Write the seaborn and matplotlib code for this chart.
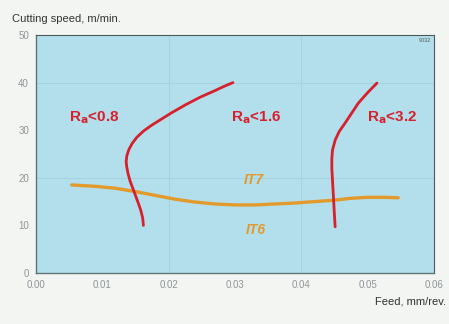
import matplotlib
matplotlib.use("Agg")
import matplotlib.pyplot as plt
import seaborn as sns
import pandas as pd

# Surface roughness limit curves (feed mm/rev vs cutting speed m/min)
ra08_feed = [0.0162, 0.0161, 0.0158, 0.0154, 0.0150, 0.0146, 0.0142, 0.0139, 0.0137, 0.0136,
             0.0137, 0.0140, 0.0145, 0.0152, 0.0162, 0.0175, 0.0190, 0.0205, 0.0225, 0.0247,
             0.0268, 0.0285, 0.0297]
ra08_speed = [10.0, 11.5, 13.2, 14.8, 16.3, 17.8, 19.3, 20.8, 22.2, 23.4,
              24.6, 25.9, 27.2, 28.5, 29.8, 31.1, 32.4, 33.7, 35.3, 36.9,
              38.2, 39.3, 40.0]

ra32_feed = [0.0451, 0.0450, 0.0449, 0.0448, 0.0447, 0.0446, 0.0446, 0.0447, 0.0451, 0.0457,
             0.0466, 0.0476, 0.0486, 0.0500, 0.0514]
ra32_speed = [9.7, 12.0, 14.5, 17.0, 19.5, 22.0, 24.0, 25.8, 27.9, 29.7,
              31.5, 33.6, 35.7, 37.9, 39.9]

# Tolerance grade boundary IT7 / IT6
it_feed = [0.0054, 0.0090, 0.0120, 0.0150, 0.0180, 0.0210, 0.0240, 0.0270, 0.0300, 0.0330,
           0.0360, 0.0390, 0.0420, 0.0450, 0.0475, 0.0500, 0.0525, 0.0546]
it_speed = [18.5, 18.2, 17.8, 17.1, 16.3, 15.5, 14.9, 14.5, 14.3, 14.3,
            14.5, 14.7, 15.0, 15.3, 15.7, 15.9, 15.9, 15.8]

ra_labels = ["0.8", "1.6", "3.2"]
ra_label_x = [0.0088, 0.0332, 0.0537]
ra_label_y = [32.6, 32.6, 32.6]

it_labels = ["IT7", "IT6"]
it_label_x = [0.0328, 0.0331]
it_label_y = [19.5, 9.0]

xticks = [0.00, 0.01, 0.02, 0.03, 0.04, 0.05, 0.06]
yticks = [0, 10, 20, 30, 40, 50]

RED = "#d6202c"
ORANGE = "#e39a2c"
TICK = "#8f9496"

sns.set_style("white")
plt.rcParams["font.family"] = ["Liberation Sans", "DejaVu Sans"]

fig = plt.figure(figsize=(4.49, 3.24), dpi=100)
fig.patch.set_facecolor("#f3f5f3")
ax = fig.add_axes([0.080, 0.1574, 0.8866, 0.7346])
ax.set_facecolor("#b2dfeb")

ax.set_xlim(0, 0.06)
ax.set_ylim(0, 50)
for v in [0.02, 0.04]:
    ax.axvline(v, color="#a4d3de", lw=0.7, zorder=0)
for v in [20, 40]:
    ax.axhline(v, color="#a4d3de", lw=0.7, zorder=0)

df_it = pd.DataFrame({"feed": it_feed, "speed": it_speed})
sns.lineplot(data=df_it, x="feed", y="speed", sort=False, estimator=None,
             color=ORANGE, lw=2.4, ax=ax, zorder=2)
df_08 = pd.DataFrame({"feed": ra08_feed, "speed": ra08_speed})
sns.lineplot(data=df_08, x="feed", y="speed", sort=False, estimator=None,
             color=RED, lw=2.0, ax=ax, zorder=3)
df_32 = pd.DataFrame({"feed": ra32_feed, "speed": ra32_speed})
sns.lineplot(data=df_32, x="feed", y="speed", sort=False, estimator=None,
             color=RED, lw=2.0, ax=ax, zorder=3)

for lab, x, y in zip(ra_labels, ra_label_x, ra_label_y):
    ax.text(x, y, r"R$_\mathbf{a}$<" + lab, color=RED, fontsize=11,
            fontweight="bold", ha="center", va="center", zorder=4)
for lab, x, y in zip(it_labels, it_label_x, it_label_y):
    ax.text(x, y, lab, color=ORANGE, fontsize=10, fontweight="bold",
            fontstyle="italic", ha="center", va="center", zorder=4)

ax.text(0.0595, 49.3, "9032", fontsize=4, color="#555", ha="right", va="top")

ax.set_xticks(xticks)
ax.set_xticklabels([f"{t:.2f}" for t in xticks])
ax.set_yticks(yticks)
ax.set_yticklabels([str(t) for t in yticks])
ax.tick_params(axis="both", length=0, labelsize=7, colors=TICK, pad=5)
ax.set_xlabel("")
ax.set_ylabel("")

for s in ["left", "bottom"]:
    ax.spines[s].set_color("#5f7478")
    ax.spines[s].set_linewidth(1.0)
for s in ["top", "right"]:
    ax.spines[s].set_color("#4d5a5c")
    ax.spines[s].set_linewidth(0.8)

fig.text(12 / 449, 1 - 19 / 324, "Cutting speed, m/min.", fontsize=8,
         color="#333", ha="left", va="center")
fig.text(446 / 449, 1 - 302 / 324, "Feed, mm/rev.", fontsize=8,
         color="#333", ha="right", va="center")

fig.savefig("out.png", dpi=100, facecolor=fig.get_facecolor())
